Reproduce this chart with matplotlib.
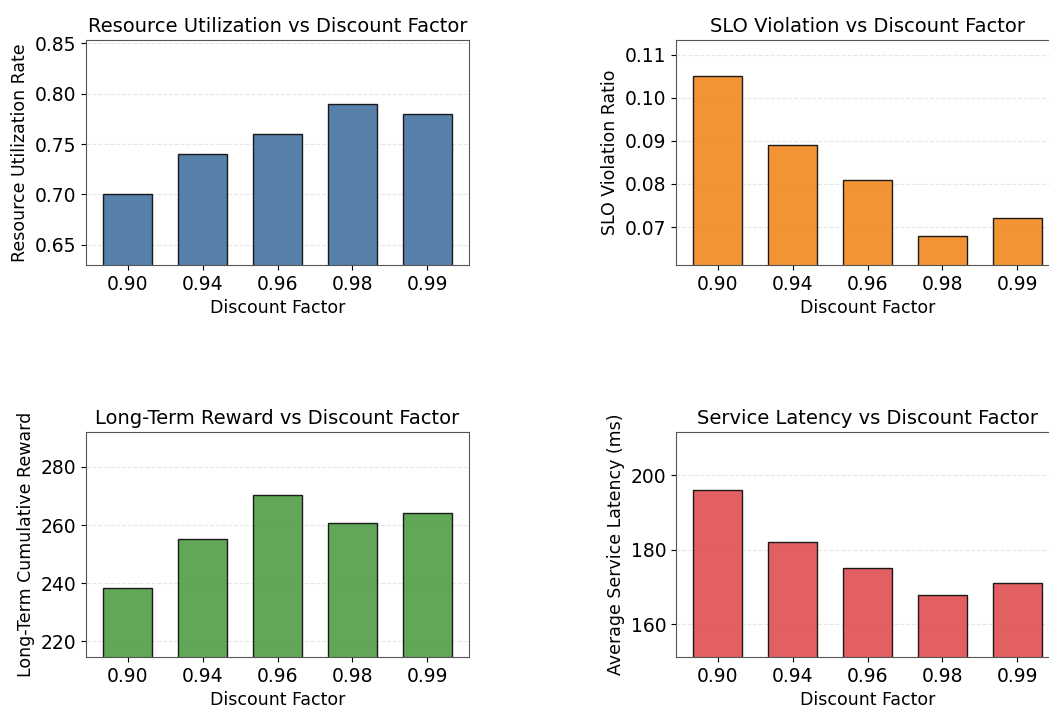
import matplotlib
matplotlib.use('Agg')
import matplotlib.pyplot as plt
import numpy as np

gammas = ['0.90', '0.94', '0.96', '0.98', '0.99']
utilization = [0.70, 0.74, 0.76, 0.79, 0.78]
slo_violation = [0.105, 0.089, 0.081, 0.068, 0.072]
reward = [238.5, 255.2, 270.4, 260.9, 264.1]
latency = [196, 182, 175, 168, 171]

panels = [
    (utilization, '#4e79a7', 'Resource Utilization Rate', 'Resource Utilization vs Discount Factor'),
    (slo_violation, '#f28e2b', 'SLO Violation Ratio', 'SLO Violation vs Discount Factor'),
    (reward, '#59a14f', 'Long-Term Cumulative Reward', 'Long-Term Reward vs Discount Factor'),
    (latency, '#e15759', 'Average Service Latency (ms)', 'Service Latency vs Discount Factor'),
]

# axes boxes in pixels (right column runs off the edge, as in the source)
W, H = 1049, 708
boxes = [(86, 40, 469, 265), (676, 40, 1059, 265),
         (86, 432, 469, 657), (676, 432, 1059, 657)]

plt.rcParams.update({'font.size': 13})
fig = plt.figure(figsize=(W / 100, H / 100), dpi=100)

for (vals, color, ylabel, title), (x0, y0, x1, y1) in zip(panels, boxes):
    ax = fig.add_axes([x0 / W, 1 - y1 / H, (x1 - x0) / W, (y1 - y0) / H])
    x = np.arange(len(gammas))
    ax.bar(x, vals, width=0.65, color=color, alpha=0.95, edgecolor='#111111', linewidth=1)
    ax.set_xticks(x)
    ax.set_xticklabels(gammas)
    ax.tick_params(labelsize=13.5)
    ax.set_ylim(min(vals) * 0.9, max(vals) * 1.08)
    ax.set_xlabel('Discount Factor', fontsize=12.5)
    ax.set_ylabel(ylabel, fontsize=12.5)
    ax.set_title(title, fontsize=14)
    ax.grid(axis='y', linestyle='--', alpha=0.3)
    ax.set_axisbelow(True)
    for s in ax.spines.values():
        s.set_color('#555555')

fig.savefig('out.png', dpi=100)
